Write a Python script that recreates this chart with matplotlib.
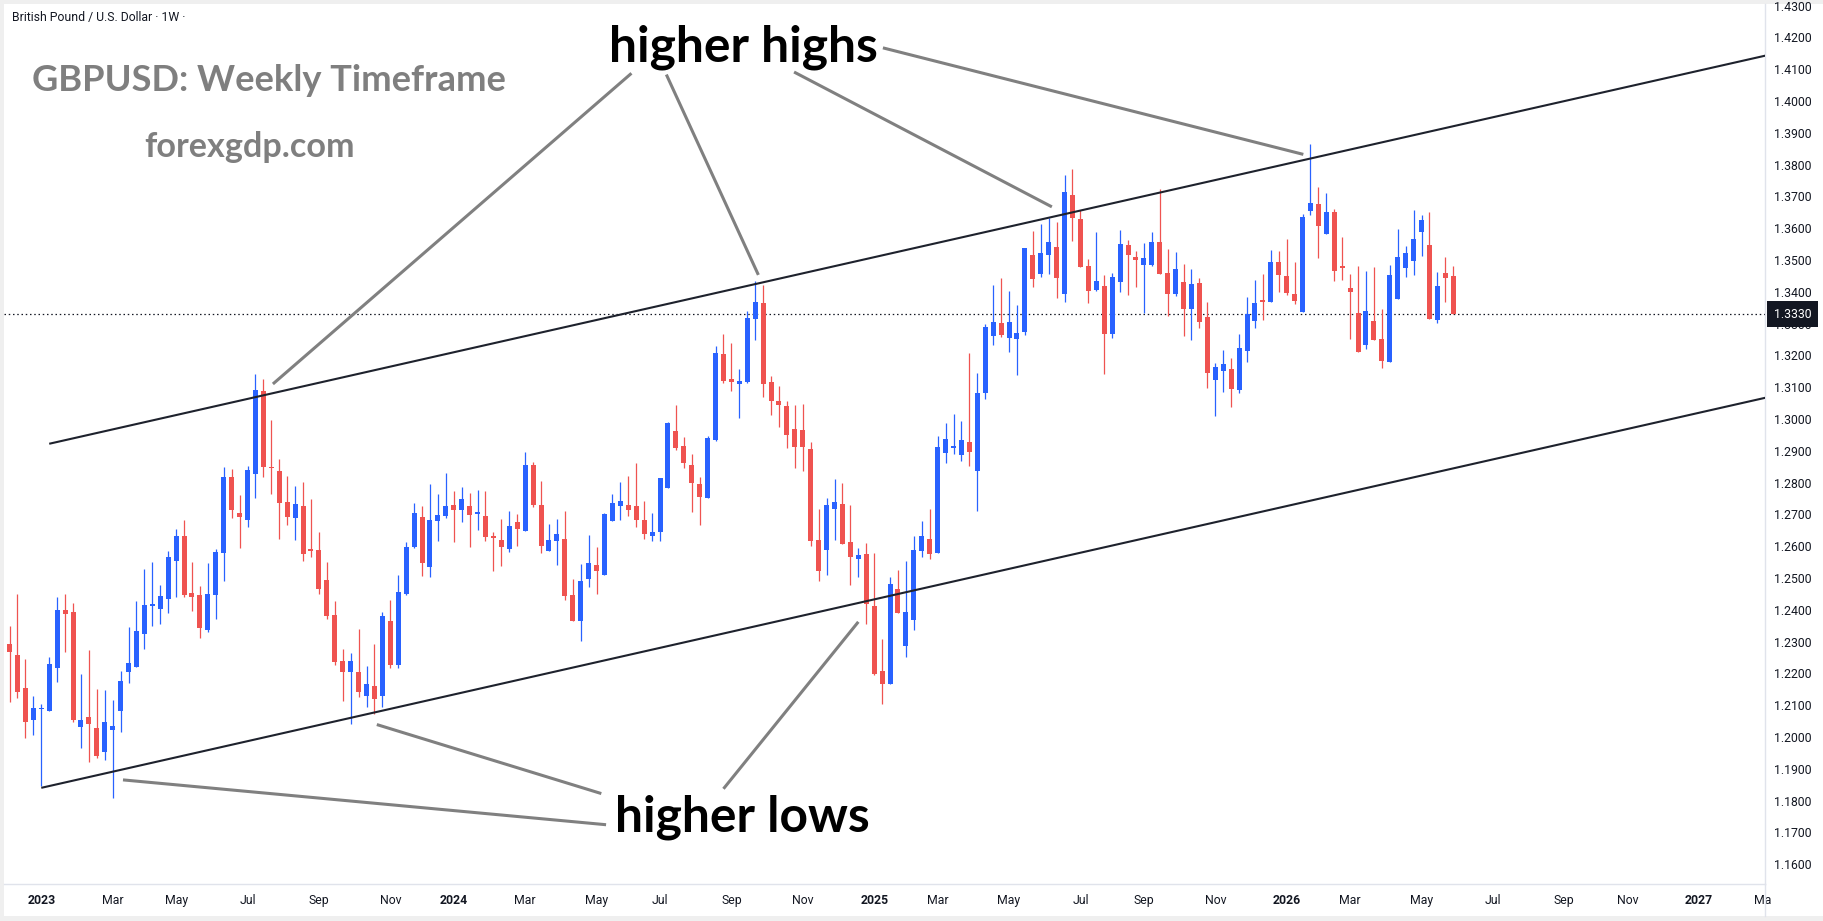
import datetime as dt
import numpy as np
import matplotlib.pyplot as plt
from matplotlib.lines import Line2D
from matplotlib.patches import Rectangle
from matplotlib.transforms import blended_transform_factory

# weekly GBPUSD candles, first bar = week of 2022-11-28
first_week = dt.date(2022, 11, 28)

opens = [1.2062, 1.2292, 1.2258, 1.2154, 1.2054, 1.2088, 1.2083, 1.2218, 1.2399, 1.2393,
         1.2032, 1.2063, 1.2028, 1.1954, 1.2023, 1.2083, 1.2205, 1.2221, 1.2325, 1.2413,
         1.2403, 1.2435, 1.2554, 1.2632, 1.2453, 1.2446, 1.2336, 1.2447, 1.2579, 1.2817,
         1.2704, 1.2683, 1.2828, 1.3088, 1.2848, 1.2836, 1.2739, 1.2690, 1.2727, 1.2588,
         1.2588, 1.2495, 1.2384, 1.2239, 1.2205, 1.2204, 1.2130, 1.2160, 1.2130, 1.2366,
         1.2226, 1.2448, 1.2597, 1.2692, 1.2536, 1.2680, 1.2696, 1.2729, 1.2715, 1.2726,
         1.2702, 1.2695, 1.2632, 1.2619, 1.2592, 1.2676, 1.2649, 1.2855, 1.2729, 1.2586,
         1.2617, 1.2623, 1.2446, 1.2366, 1.2498, 1.2541, 1.2510, 1.2680, 1.2727, 1.2729,
         1.2726, 1.2682, 1.2633, 1.2646, 1.2783, 1.2962, 1.2915, 1.2855, 1.2796, 1.2750,
         1.2934, 1.3204, 1.3126, 1.3111, 1.3116, 1.3315, 1.3365, 1.3116, 1.3057, 1.3041,
         1.2968, 1.2965, 1.2906, 1.2619, 1.2589, 1.2718, 1.2732, 1.2613, 1.2561, 1.2575,
         1.2412, 1.2208, 1.2168, 1.2466, 1.2287, 1.2369, 1.2586, 1.2624, 1.2579, 1.2894,
         1.2910, 1.2888, 1.2928, 1.2837, 1.3083, 1.3262, 1.3302, 1.3256, 1.3252, 1.3273,
         1.3516, 1.3457, 1.3517, 1.3541, 1.3394, 1.3704, 1.3629, 1.3481, 1.3405, 1.3418,
         1.3268, 1.3432, 1.3547, 1.3509, 1.3484, 1.3484, 1.3556, 1.3459, 1.3394, 1.3431,
         1.3347, 1.3427, 1.3321, 1.3124, 1.3152, 1.3157, 1.3092, 1.3215, 1.3309, 1.3371,
         1.3369, 1.3494, 1.3450, 1.3393, 1.3337, 1.3655, 1.3676, 1.3583, 1.3651, 1.3481,
         1.3412, 1.3333, 1.3234, 1.3308, 1.3251, 1.3180, 1.3378, 1.3476, 1.3498, 1.3589,
         1.3547, 1.3312, 1.3459, 1.3450]
highs = [1.2295, 1.2349, 1.2450, 1.2245, 1.2129, 1.2104, 1.2253, 1.2441, 1.2450, 1.2421,
         1.2198, 1.2275, 1.2151, 1.2148, 1.2116, 1.2207, 1.2346, 1.2428, 1.2528, 1.2550,
         1.2478, 1.2585, 1.2654, 1.2682, 1.2550, 1.2475, 1.2547, 1.2591, 1.2849, 1.2843,
         1.2761, 1.2852, 1.3141, 1.3125, 1.2997, 1.2874, 1.2821, 1.2789, 1.2802, 1.2748,
         1.2644, 1.2550, 1.2428, 1.2277, 1.2263, 1.2339, 1.2223, 1.2292, 1.2393, 1.2431,
         1.2509, 1.2614, 1.2736, 1.2726, 1.2796, 1.2764, 1.2830, 1.2773, 1.2786, 1.2767,
         1.2777, 1.2773, 1.2643, 1.2685, 1.2711, 1.2701, 1.2896, 1.2865, 1.2805, 1.2670,
         1.2685, 1.2711, 1.2498, 1.2544, 1.2635, 1.2597, 1.2703, 1.2764, 1.2802, 1.2821,
         1.2861, 1.2742, 1.2704, 1.2815, 1.2990, 1.3044, 1.2943, 1.2890, 1.2818, 1.2946,
         1.3229, 1.3267, 1.3239, 1.3157, 1.3339, 1.3434, 1.3421, 1.3135, 1.3104, 1.3057,
         1.3045, 1.3047, 1.2928, 1.2718, 1.2751, 1.2811, 1.2799, 1.2729, 1.2594, 1.2610,
         1.2579, 1.2309, 1.2504, 1.2525, 1.2553, 1.2633, 1.2680, 1.2718, 1.2947, 1.2988,
         1.3017, 1.2995, 1.3207, 1.3145, 1.3299, 1.3422, 1.3443, 1.3402, 1.3358, 1.3538,
         1.3591, 1.3613, 1.3632, 1.3619, 1.3767, 1.3786, 1.3658, 1.3503, 1.3588, 1.3453,
         1.3459, 1.3594, 1.3563, 1.3528, 1.3553, 1.3588, 1.3723, 1.3534, 1.3525, 1.3487,
         1.3472, 1.3443, 1.3368, 1.3175, 1.3217, 1.3192, 1.3267, 1.3383, 1.3437, 1.3456,
         1.3531, 1.3528, 1.3566, 1.3494, 1.3645, 1.3865, 1.3729, 1.3711, 1.3660, 1.3572,
         1.3456, 1.3481, 1.3465, 1.3478, 1.3346, 1.3484, 1.3597, 1.3544, 1.3657, 1.3641,
         1.3651, 1.3462, 1.3509, 1.3481]
lows = [1.2060, 1.2111, 1.2124, 1.1998, 1.2007, 1.1847, 1.2083, 1.2174, 1.2268, 1.2048,
        1.1966, 1.1922, 1.1935, 1.1929, 1.1809, 1.2017, 1.2171, 1.2221, 1.2278, 1.2350,
        1.2356, 1.2391, 1.2441, 1.2440, 1.2397, 1.2312, 1.2331, 1.2372, 1.2491, 1.2690,
        1.2594, 1.2661, 1.2752, 1.2819, 1.2765, 1.2624, 1.2668, 1.2620, 1.2552, 1.2567,
        1.2451, 1.2370, 1.2226, 1.2113, 1.2042, 1.2127, 1.2095, 1.2072, 1.2095, 1.2216,
        1.2216, 1.2446, 1.2595, 1.2507, 1.2504, 1.2617, 1.2688, 1.2614, 1.2677, 1.2598,
        1.2652, 1.2617, 1.2523, 1.2539, 1.2583, 1.2602, 1.2649, 1.2724, 1.2580, 1.2586,
        1.2542, 1.2431, 1.2366, 1.2303, 1.2470, 1.2451, 1.2510, 1.2680, 1.2682, 1.2695,
        1.2661, 1.2624, 1.2617, 1.2617, 1.2783, 1.2903, 1.2847, 1.2707, 1.2667, 1.2750,
        1.2932, 1.3112, 1.3089, 1.3004, 1.3114, 1.3248, 1.3070, 1.3013, 1.2976, 1.2910,
        1.2847, 1.2837, 1.2599, 1.2491, 1.2510, 1.2620, 1.2608, 1.2479, 1.2504, 1.2356,
        1.2196, 1.2105, 1.2165, 1.2391, 1.2252, 1.2337, 1.2567, 1.2561, 1.2579, 1.2863,
        1.2891, 1.2869, 1.2853, 1.2712, 1.3064, 1.3234, 1.3259, 1.3212, 1.3139, 1.3265,
        1.3416, 1.3447, 1.3457, 1.3381, 1.3369, 1.3561, 1.3479, 1.3366, 1.3403, 1.3142,
        1.3256, 1.3400, 1.3391, 1.3416, 1.3334, 1.3481, 1.3457, 1.3325, 1.3388, 1.3262,
        1.3249, 1.3287, 1.3098, 1.3010, 1.3086, 1.3039, 1.3083, 1.3180, 1.3287, 1.3312,
        1.3369, 1.3400, 1.3391, 1.3362, 1.3337, 1.3642, 1.3507, 1.3583, 1.3435, 1.3438,
        1.3253, 1.3212, 1.3221, 1.3249, 1.3161, 1.3180, 1.3378, 1.3447, 1.3453, 1.3512,
        1.3315, 1.3303, 1.3369, 1.3330]
closes = [1.2292, 1.2268, 1.2142, 1.2048, 1.2091, 1.2090, 1.2229, 1.2399, 1.2388, 1.2053,
          1.2053, 1.2042, 1.1941, 1.2047, 1.2034, 1.2176, 1.2233, 1.2333, 1.2415, 1.2415,
          1.2443, 1.2566, 1.2632, 1.2447, 1.2441, 1.2344, 1.2450, 1.2582, 1.2817, 1.2715,
          1.2693, 1.2839, 1.3091, 1.2850, 1.2846, 1.2737, 1.2693, 1.2733, 1.2576, 1.2586,
          1.2466, 1.2381, 1.2237, 1.2205, 1.2239, 1.2142, 1.2166, 1.2120, 1.2380, 1.2226,
          1.2456, 1.2597, 1.2704, 1.2548, 1.2682, 1.2698, 1.2726, 1.2715, 1.2748, 1.2699,
          1.2704, 1.2630, 1.2627, 1.2598, 1.2663, 1.2655, 1.2855, 1.2729, 1.2602, 1.2619,
          1.2638, 1.2444, 1.2366, 1.2490, 1.2546, 1.2523, 1.2701, 1.2736, 1.2742, 1.2715,
          1.2683, 1.2639, 1.2644, 1.2814, 1.2987, 1.2910, 1.2863, 1.2800, 1.2755, 1.2940,
          1.3207, 1.3120, 1.3117, 1.3119, 1.3317, 1.3368, 1.3111, 1.3058, 1.3045, 1.2951,
          1.2913, 1.2913, 1.2617, 1.2523, 1.2729, 1.2739, 1.2608, 1.2565, 1.2572, 1.2419,
          1.2199, 1.2165, 1.2482, 1.2391, 1.2394, 1.2589, 1.2633, 1.2576, 1.2913, 1.2938,
          1.2912, 1.2934, 1.2897, 1.3082, 1.3289, 1.3305, 1.3264, 1.3305, 1.3270, 1.3538,
          1.3441, 1.3522, 1.3556, 1.3444, 1.3714, 1.3633, 1.3479, 1.3403, 1.3434, 1.3268,
          1.3446, 1.3550, 1.3517, 1.3501, 1.3506, 1.3556, 1.3457, 1.3394, 1.3472, 1.3347,
          1.3424, 1.3306, 1.3145, 1.3163, 1.3173, 1.3095, 1.3223, 1.3330, 1.3365, 1.3369,
          1.3494, 1.3454, 1.3397, 1.3372, 1.3635, 1.3679, 1.3608, 1.3651, 1.3466, 1.3476,
          1.3400, 1.3212, 1.3339, 1.3249, 1.3183, 1.3453, 1.3509, 1.3522, 1.3566, 1.3626,
          1.3315, 1.3418, 1.3444, 1.3330]

price_ticks = [round(1.16 + 0.01 * i, 2) for i in range(28)]
tick_months = ['2023-01', '2023-03', '2023-05', '2023-07', '2023-09', '2023-11',
               '2024-01', '2024-03', '2024-05', '2024-07', '2024-09', '2024-11',
               '2025-01', '2025-03', '2025-05', '2025-07', '2025-09', '2025-11',
               '2026-01', '2026-03', '2026-05', '2026-07', '2026-09', '2026-11',
               '2027-01', '2027-03']
tick_labels = ['2023', 'Mar', 'May', 'Jul', 'Sep', 'Nov',
               '2024', 'Mar', 'May', 'Jul', 'Sep', 'Nov',
               '2025', 'Mar', 'May', 'Jul', 'Sep', 'Nov',
               '2026', 'Mar', 'May', 'Jul', 'Sep', 'Nov',
               '2027', 'Ma']

# channel lines: (week index, price) anchors
upper_line = [(6.0, 1.2922), (165.0, 1.3819)]
lower_line = [(5.0, 1.1840), (165.0, 1.2743)]

# annotation pointers: (text end, target) as (week index, price)
hh_arrows = [((79.4, 1.4087), (34.2, 1.3110)),
             ((83.8, 1.4083), (95.4, 1.3453)),
             ((99.9, 1.4091), (132.4, 1.3667)),
             ((111.1, 1.4167), (164.1, 1.3832))]
hl_arrows = [((76.2, 1.1724), (15.3, 1.1865)),
             ((75.6, 1.1822), (47.3, 1.2039)),
             ((91.0, 1.1837), (108.0, 1.2362))]

UP = '#2962ff'
DOWN = '#ef5350'
INK = '#131722'
GRID = '#e0e3eb'

o = np.array(opens)
h = np.array(highs)
l = np.array(lows)
c = np.array(closes)
x = np.arange(len(o))
cols = np.where(c >= o, UP, DOWN)

W, H = 1824, 921
fig = plt.figure(figsize=(W / 100, H / 100), dpi=100, facecolor='#efefef')
fig.patches.append(Rectangle((4 / W, 5 / H), 1820 / W, 912 / H, transform=fig.transFigure,
                             facecolor='white', edgecolor='none', zorder=-5))
ax = fig.add_axes([4 / W, 37 / H, 1761 / W, 880 / H])
ax.set_facecolor('white')

ax.vlines(x, l, h, colors=cols, linewidth=0.9, zorder=2)
body_lo = np.minimum(o, c)
body_h = np.maximum(np.abs(c - o), 0.0004)
ax.bar(x, body_h, bottom=body_lo, width=0.63, color=cols, linewidth=0, zorder=3)

ax.set_xlim(0.30, 222.3)
ax.set_ylim(1.15376, 1.43049)


def extend(p, right):
    (x0, y0), (x1, y1) = p
    k = (y1 - y0) / (x1 - x0)
    return [x0, right], [y0, y0 + k * (right - x0)]


for line in (upper_line, lower_line):
    xs, ys = extend(line, 230)
    ax.plot(xs, ys, color='#1e222d', linewidth=1.5, zorder=4, solid_capstyle='butt')

for (a, b) in hh_arrows + hl_arrows:
    ax.plot([a[0], b[0]], [a[1], b[1]], color='#808080', linewidth=2.2, zorder=5,
            solid_capstyle='butt')

ax.text(93.5, 1.4123, 'higher highs', ha='center', va='baseline', fontsize=35.8,
        family='Lato', weight='bold', color='black', zorder=6)
ax.text(93.4, 1.1702, 'higher lows', ha='center', va='baseline', fontsize=35.8,
        family='Lato', weight='bold', color='black', zorder=6)

# last price line + label
last = c[-1]
ax.axhline(last, color=INK, linewidth=0.9, linestyle=(0, (1.2, 2.2)), zorder=1)
tr = blended_transform_factory(ax.transAxes, ax.transData)
ax.text((1774 - 4) / 1761, last, f'{last:.4f}', transform=tr, ha='left', va='center',
        fontsize=8.8, family='Roboto', color='white', zorder=10, clip_on=False,
        bbox=dict(boxstyle='square,pad=0.55', facecolor=INK, edgecolor='none'))

# axes styling
ax.yaxis.tick_right()
ax.set_yticks(price_ticks)
ax.set_yticklabels([f'{p:.4f}' for p in price_ticks])
ax.tick_params(axis='y', length=0, pad=6.5, labelsize=8.8, labelcolor=INK)

month_starts = [dt.date(int(m[:4]), int(m[5:]), 1) for m in tick_months]
tick_pos = [int(np.ceil((d - first_week).days / 7)) for d in month_starts]
ax.set_xticks(tick_pos)
ax.set_xticklabels(tick_labels)
ax.tick_params(axis='x', length=0, pad=7, labelsize=8.8, labelcolor=INK)
for lab in ax.get_xticklabels() + ax.get_yticklabels():
    lab.set_family('Roboto')
for lab, txt in zip(ax.get_xticklabels(), tick_labels):
    if txt.isdigit():
        lab.set_weight('bold')

for side in ('top', 'left'):
    ax.spines[side].set_visible(False)
for side in ('right', 'bottom'):
    ax.spines[side].set_color(GRID)
    ax.spines[side].set_linewidth(1)
fig.add_artist(Line2D([1765.5 / W] * 2, [5 / H, 37 / H], color=GRID, linewidth=1))

# headings
ax.text((12 - 4) / 1761, (884 - 18) / 880, 'British Pound / U.S. Dollar \u00b7 1W \u00b7',
        transform=ax.transAxes, ha='left', va='center', fontsize=8.8, family='Roboto',
        color=INK)
ax.text((31.7 - 4) / 1761, (884 - 90.7) / 880, 'GBPUSD: Weekly Timeframe',
        transform=ax.transAxes, ha='left', va='baseline', fontsize=26.1, family='Lato',
        weight='bold', color='#7f7f7f')
ax.text((249.2 - 4) / 1761, (884 - 156.7) / 880, 'forexgdp.com',
        transform=ax.transAxes, ha='center', va='baseline', fontsize=24.6, family='Lato',
        weight='bold', color='#7f7f7f')

fig.savefig('out.png', dpi=100, facecolor=fig.get_facecolor())
